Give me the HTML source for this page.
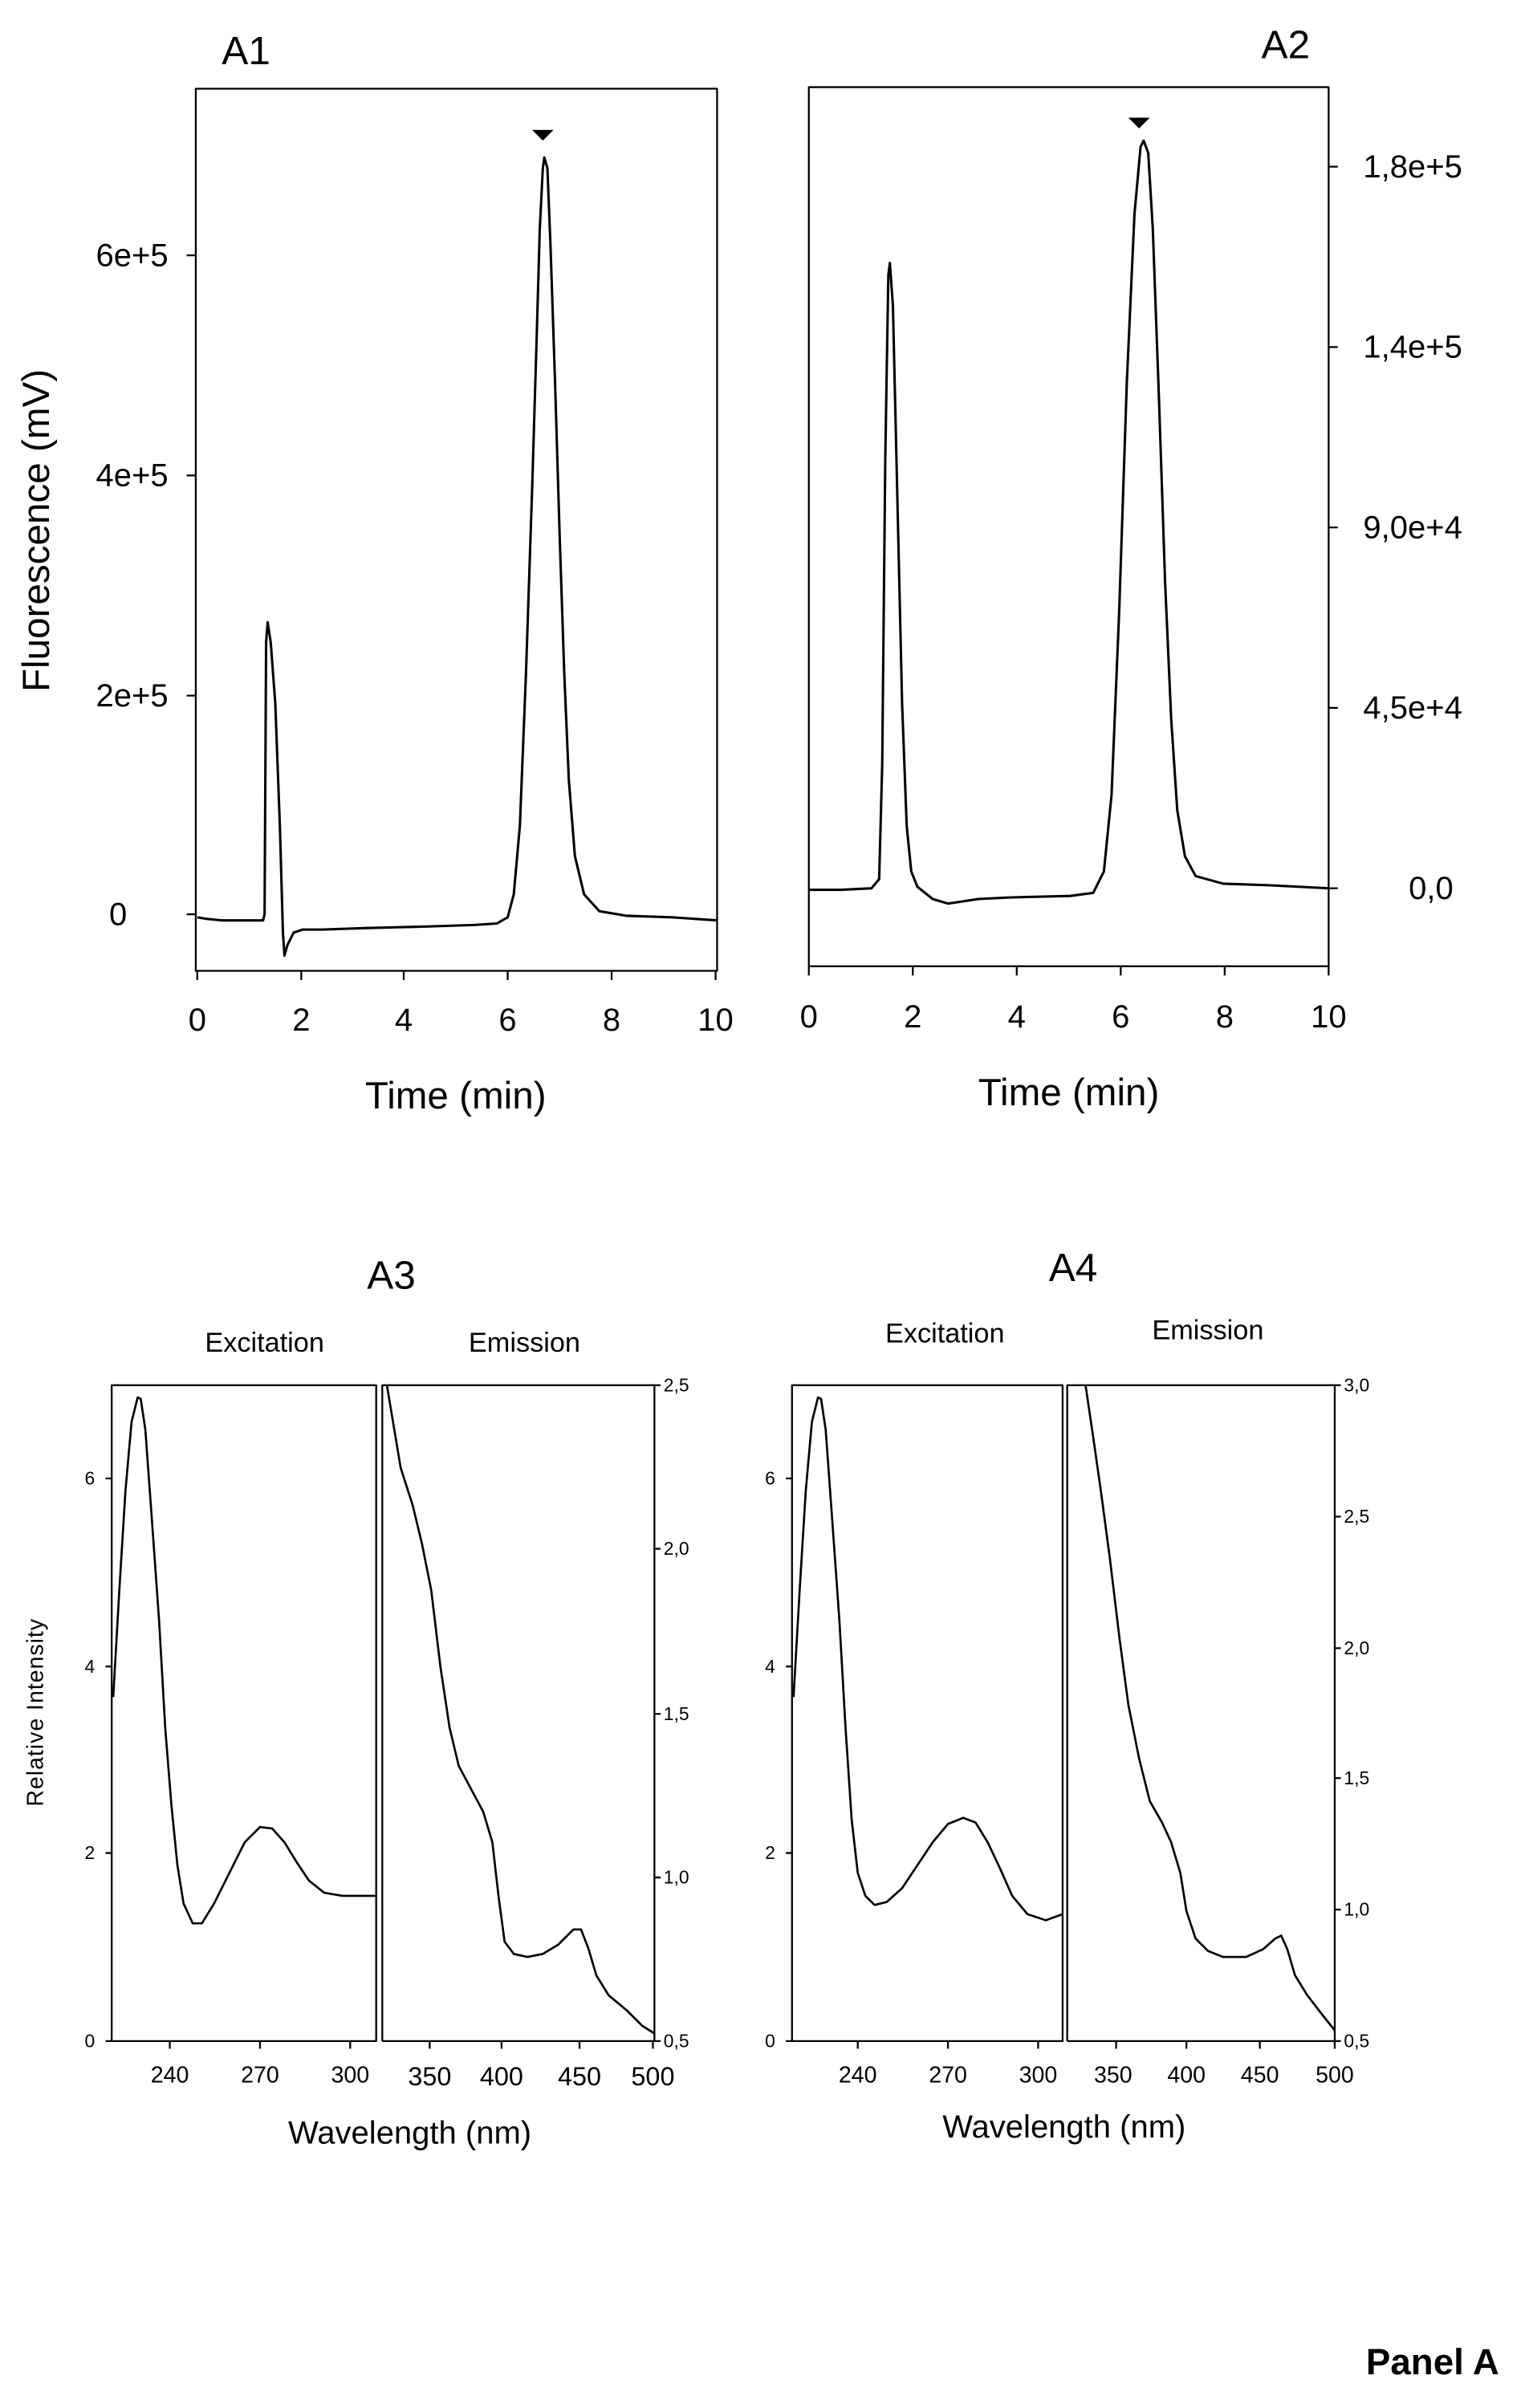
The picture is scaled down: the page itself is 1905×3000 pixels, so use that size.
<!DOCTYPE html>
<html><head><meta charset="utf-8"><style>html,body{margin:0;padding:0;background:#fff}svg{display:block}</style></head>
<body>
<svg width="1905" height="3000" viewBox="0 0 1000 1575" xmlns="http://www.w3.org/2000/svg" font-family="Liberation Sans, Arial, sans-serif">
<rect width="1000" height="1575" fill="#fff"/>
<g fill="none" stroke="#000" stroke-width="1.2" stroke-linejoin="round">
<!-- A1 -->
<rect x="128" y="58" width="341" height="577"/>
<path d="M128,598h-6M128,455h-6M128,311h-6M128,167h-6"/>
<path d="M129,635v6M197,635v6M264,635v6M332,635v6M400,635v6M468,635v6"/>
<polyline stroke-width="1.6" points="129,600 135,601 145,602 160,602 172,602 173,598 174,420 175,407 177,420 180,460 183,540 185,610 186,625 188,618 192,610 198,608 210,608 240,607 280,606 310,605 325,604 332,600 336,585 340,540 344,440 348,320 351,220 353,150 355,110 356,103 358,110 360,160 363,250 366,350 369,440 372,510 376,560 382,585 392,596 410,599 440,600 469,602"/>
<path d="M348,85h14l-7,7z" fill="#000" stroke="none"/>
<!-- A2 -->
<rect x="529" y="57" width="340" height="575"/>
<path d="M869,581h6M869,463h6M869,345h6M869,227h6M869,109h6"/>
<path d="M529,632v6M597,632v6M665,632v6M733,632v6M801,632v6M869,632v6"/>
<polyline stroke-width="1.6" points="529,582 550,582 570,581 575,575 577,500 579,300 581,180 582,172 584,200 587,330 590,460 593,540 596,570 600,580 610,588 620,591 640,588 660,587 700,586 715,584 722,570 727,520 732,400 737,250 742,140 746,96 748,92 751,100 754,150 758,260 762,380 766,470 770,530 775,560 782,573 800,578 830,579 869,581"/>
<path d="M738,77h14l-7,7z" fill="#000" stroke="none"/>
<!-- A3 -->
<path d="M73,1335V906H246V1335H73M250,1335V906H428V1335H250"/>
<path d="M73,967h-4M73,1090h-4M73,1212h-4M73,1335h-4"/>
<path d="M428,906h4M428,1013h4M428,1121h4M428,1228h4M428,1335h4"/>
<path d="M111,1335v5M170,1335v5M229,1335v5M281,1335v5M328,1335v5M379,1335v5M427,1335v5"/>
<polyline stroke-width="1.4" points="74,1110 78,1040 82,975 86,930 90,914 92,915 95,935 99,990 104,1060 108,1130 112,1180 116,1220 120,1245 126,1258 132,1258 140,1245 150,1225 160,1205 170,1195 178,1196 186,1205 194,1218 202,1230 212,1238 224,1240 236,1240 246,1240"/>
<polyline stroke-width="1.4" points="253,906 257,930 262,960 270,985 276,1010 282,1040 288,1090 294,1130 300,1155 308,1170 316,1185 322,1205 326,1240 330,1270 336,1278 345,1280 355,1278 365,1272 375,1262 380,1262 385,1275 390,1292 398,1305 410,1315 420,1325 428,1330"/>
<!-- A4 -->
<path d="M518,1335V906H695V1335H518M698,1335V906H873V1335H698"/>
<path d="M518,967h-4M518,1090h-4M518,1212h-4M518,1335h-4"/>
<path d="M873,906h4M873,992h4M873,1078h4M873,1163h4M873,1249h4M873,1335h4"/>
<path d="M561,1335v5M620,1335v5M679,1335v5M730,1335v5M776,1335v5M824,1335v5M873,1335v5"/>
<polyline stroke-width="1.4" points="519,1110 523,1040 527,975 531,930 535,914 537,915 540,935 544,990 549,1060 553,1130 557,1190 561,1225 566,1240 572,1246 580,1244 590,1235 600,1220 610,1205 620,1193 630,1189 638,1192 646,1205 654,1222 662,1240 672,1252 684,1256 695,1252"/>
<polyline stroke-width="1.4" points="710,906 715,940 720,975 726,1020 732,1070 738,1115 745,1150 752,1178 760,1192 766,1205 772,1225 776,1250 782,1268 790,1276 800,1280 815,1280 826,1275 834,1268 838,1266 842,1275 847,1292 855,1305 865,1318 873,1328"/>
</g>
<g fill="#000">
<text x="145" y="42" font-size="26">A1</text>
<text x="825" y="38" font-size="26">A2</text>
<g font-size="21" text-anchor="end">
<text x="83" y="605">0</text><text x="110" y="462">2e+5</text><text x="110" y="318">4e+5</text><text x="110" y="174">6e+5</text>
</g>
<g font-size="21" text-anchor="middle">
<text x="129" y="674">0</text><text x="197" y="674">2</text><text x="264" y="674">4</text><text x="332" y="674">6</text><text x="400" y="674">8</text><text x="468" y="674">10</text>
<text x="529" y="672">0</text><text x="597" y="672">2</text><text x="665" y="672">4</text><text x="733" y="672">6</text><text x="801" y="672">8</text><text x="869" y="672">10</text>
<text x="936" y="588">0,0</text><text x="924" y="470">4,5e+4</text><text x="924" y="352">9,0e+4</text><text x="924" y="234">1,4e+5</text><text x="924" y="116">1,8e+5</text>
</g>
<text x="298" y="725" font-size="25" text-anchor="middle">Time (min)</text>
<text x="699" y="723" font-size="25" text-anchor="middle">Time (min)</text>
<text transform="translate(32,347) rotate(-90)" font-size="25" text-anchor="middle">Fluorescence (mV)</text>
<text x="240" y="843" font-size="26">A3</text>
<text x="686" y="838" font-size="26">A4</text>
<text x="173" y="884" font-size="18" text-anchor="middle">Excitation</text>
<text x="343" y="884" font-size="18" text-anchor="middle">Emission</text>
<text x="618" y="878" font-size="18" text-anchor="middle">Excitation</text>
<text x="790" y="876" font-size="18" text-anchor="middle">Emission</text>
<g font-size="12" text-anchor="end">
<text x="62" y="971">6</text><text x="62" y="1094">4</text><text x="62" y="1216">2</text><text x="62" y="1339">0</text>
<text x="507" y="971">6</text><text x="507" y="1094">4</text><text x="507" y="1216">2</text><text x="507" y="1339">0</text>
</g>
<g font-size="12">
<text x="434" y="910">2,5</text><text x="434" y="1017">2,0</text><text x="434" y="1125">1,5</text><text x="434" y="1232">1,0</text><text x="434" y="1339">0,5</text>
<text x="879" y="910">3,0</text><text x="879" y="996">2,5</text><text x="879" y="1082">2,0</text><text x="879" y="1167">1,5</text><text x="879" y="1253">1,0</text><text x="879" y="1339">0,5</text>
</g>
<g font-size="15" text-anchor="middle">
<text x="111" y="1362">240</text><text x="170" y="1362">270</text><text x="229" y="1362">300</text>
<text x="281" y="1364" font-size="17">350</text><text x="328" y="1364" font-size="17">400</text><text x="379" y="1364" font-size="17">450</text><text x="427" y="1364" font-size="17">500</text>
<text x="561" y="1362">240</text><text x="620" y="1362">270</text><text x="679" y="1362">300</text>
<text x="728" y="1362">350</text><text x="776" y="1362">400</text><text x="824" y="1362">450</text><text x="873" y="1362">500</text>
</g>
<text x="268" y="1402" font-size="21" text-anchor="middle">Wavelength (nm)</text>
<text x="696" y="1398" font-size="21" text-anchor="middle">Wavelength (nm)</text>
<text transform="translate(28,1120) rotate(-90)" font-size="15" text-anchor="middle" letter-spacing="0.5">Relative Intensity</text>
<text x="937" y="1553" font-size="24" font-weight="bold" text-anchor="middle">Panel A</text>
</g>
</svg>
</body></html>
